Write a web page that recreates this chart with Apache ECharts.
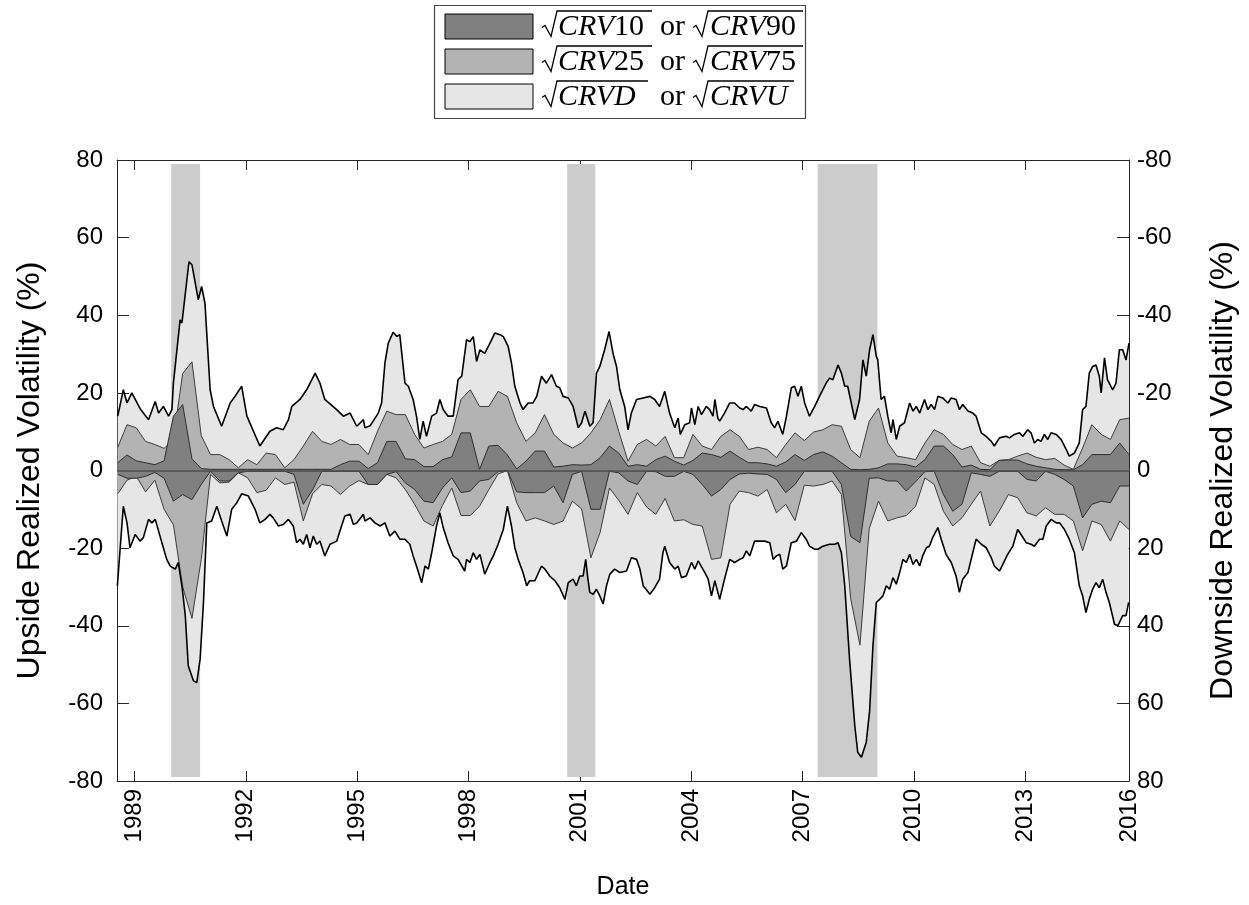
<!DOCTYPE html>
<html>
<head>
<meta charset="utf-8">
<script src="https://cdn.jsdelivr.net/npm/echarts@6.0.0/dist/echarts.min.js"></script>
<style>
  html, body { margin: 0; padding: 0; background: #fff; }
  #chart { width: 1249px; height: 905px; }
</style>
</head>
<body>
<div id="chart"></div>
<script>
// outer envelopes
const upDates = [1988.55, 1988.70, 1988.80, 1988.93, 1989.15, 1989.38, 1989.56, 1989.65, 1989.78, 1989.92,
  1990.01, 1990.05, 1990.23, 1990.28, 1990.47, 1990.55, 1990.72, 1990.81, 1990.90, 1991.04,
  1991.13, 1991.35, 1991.58, 1991.71, 1991.89, 1992.03, 1992.38, 1992.65, 1992.83, 1993.01,
  1993.15, 1993.24, 1993.46, 1993.64, 1993.87, 1994.00, 1994.13, 1994.45, 1994.63, 1994.81,
  1994.99, 1995.17, 1995.21, 1995.35, 1995.57, 1995.66, 1995.75, 1995.84, 1995.97, 1996.07,
  1996.15, 1996.29, 1996.38, 1996.51, 1996.60, 1996.69, 1996.78, 1996.87, 1997.01, 1997.14,
  1997.23, 1997.32, 1997.45, 1997.59, 1997.72, 1997.82, 1997.95, 1998.04, 1998.13, 1998.22,
  1998.31, 1998.44, 1998.58, 1998.71, 1998.85, 1998.94, 1999.07, 1999.16, 1999.25, 1999.39,
  1999.47, 1999.61, 1999.74, 1999.84, 1999.97, 2000.10, 2000.24, 2000.37, 2000.46, 2000.55,
  2000.69, 2000.82, 2000.96, 2001.05, 2001.14, 2001.27, 2001.36, 2001.45, 2001.54, 2001.67,
  2001.79, 2001.90, 2001.99, 2002.08, 2002.21, 2002.30, 2002.39, 2002.53, 2002.71, 2002.89,
  2003.02, 2003.15, 2003.29, 2003.42, 2003.56, 2003.65, 2003.71, 2003.83, 2003.96, 2004.01,
  2004.10, 2004.19, 2004.28, 2004.41, 2004.50, 2004.59, 2004.64, 2004.72, 2004.77, 2004.90,
  2005.04, 2005.17, 2005.31, 2005.40, 2005.49, 2005.62, 2005.71, 2005.85, 2006.03, 2006.16,
  2006.25, 2006.34, 2006.47, 2006.57, 2006.70, 2006.79, 2006.88, 2006.97, 2007.06, 2007.19,
  2007.33, 2007.46, 2007.64, 2007.73, 2007.82, 2007.96, 2008.05, 2008.14, 2008.22, 2008.41,
  2008.45, 2008.54, 2008.63, 2008.72, 2008.81, 2008.90, 2008.99, 2009.03, 2009.12, 2009.21,
  2009.30, 2009.39, 2009.44, 2009.53, 2009.62, 2009.75, 2009.89, 2009.98, 2010.07, 2010.16,
  2010.29, 2010.38, 2010.47, 2010.56, 2010.65, 2010.78, 2010.92, 2011.01, 2011.14, 2011.23,
  2011.32, 2011.46, 2011.59, 2011.68, 2011.82, 2011.95, 2012.09, 2012.17, 2012.31, 2012.49,
  2012.58, 2012.71, 2012.85, 2012.94, 2013.07, 2013.16, 2013.25, 2013.34, 2013.43, 2013.52,
  2013.61, 2013.70, 2013.84, 2013.97, 2014.11, 2014.19, 2014.33, 2014.46, 2014.55, 2014.64,
  2014.73, 2014.82, 2014.91, 2015.00, 2015.05, 2015.14, 2015.22, 2015.36, 2015.45, 2015.54,
  2015.63, 2015.72, 2015.80]
const upVals = [14, 20.8, 17.4, 20, 16, 13.1, 17.8, 14.8, 16.5, 14,
  15.7, 22.5, 38.8, 38, 53.8, 53, 44, 47.4, 43.1, 20.8,
  16.5, 11.4, 17.4, 19.1, 21.7, 14, 6.3, 10.1, 11, 10.5,
  13.1, 16.5, 18.3, 20.8, 25.1, 22.5, 18.3, 15.7, 14, 14.8,
  11.4, 13.1, 11, 11.5, 14.8, 17.4, 27.7, 32.8, 35.6, 34.5,
  35, 22.5, 21.7, 18.3, 14, 8, 12.7, 8.8, 14, 14.8,
  18.3, 15.7, 14, 14, 23.4, 24.3, 33.7, 33.2, 34.5, 28.1,
  31.1, 30.2, 32.8, 35.4, 35, 34.5, 32, 27.7, 21.7, 17.4,
  15.7, 17.4, 17.4, 19.1, 24.3, 22.5, 24.7, 21.7, 21.3, 19.1,
  18.7, 16.5, 11, 12.3, 15.3, 11.4, 12.3, 25.1, 26.8, 31.1,
  35.8, 30, 26.8, 20.8, 16.5, 10.5, 14.8, 18.3, 18.7, 19.1,
  18.3, 16.5, 20.4, 14.8, 11, 13.5, 9.3, 11.8, 12.3, 16.1,
  11.8, 16.5, 14.4, 16.5, 15.7, 14, 18.3, 13.5, 12.7, 14.8,
  17.4, 17.4, 16.1, 15.7, 16.5, 15.3, 17, 16.5, 16.1, 12.3,
  11, 12.7, 9.3, 14, 21.3, 21.7, 19.1, 21.7, 17.4, 14,
  16.5, 19.1, 22.5, 23.8, 23.4, 27.2, 25.1, 21.7, 21.7, 13.1,
  12.7, 18.3, 28.5, 24.3, 31.1, 35, 29.4, 28.5, 18.3, 19.1,
  14, 9.7, 13.1, 8, 11.4, 12.3, 17.4, 15.3, 16.5, 14.8,
  18.3, 15.7, 17, 15.7, 19.1, 18.7, 17.4, 18.7, 18.3, 15.7,
  17, 15.3, 14.8, 14, 9.7, 8.8, 7.5, 6.3, 8.4, 8.8,
  8.4, 9.3, 9.7, 8.8, 10.5, 9.7, 7.1, 8, 7.5, 9.3,
  8, 9.7, 9.3, 8, 5.4, 3.7, 4.5, 7.1, 15.7, 16.5,
  25.1, 26.8, 27.2, 24.3, 20, 29, 23.4, 20.8, 22.5, 31.1,
  31.1, 28.5, 32.8]

const downDates = [1988.54, 1988.70, 1988.80, 1988.88, 1989.02, 1989.15, 1989.24, 1989.38, 1989.47, 1989.56,
  1989.74, 1989.87, 1989.96, 1990.10, 1990.18, 1990.23, 1990.28, 1990.37, 1990.45, 1990.59,
  1990.68, 1990.77, 1990.86, 1990.95, 1991.08, 1991.22, 1991.35, 1991.49, 1991.62, 1991.76,
  1991.89, 1992.07, 1992.25, 1992.38, 1992.52, 1992.65, 1992.74, 1992.88, 1993.01, 1993.15,
  1993.28, 1993.37, 1993.46, 1993.55, 1993.64, 1993.73, 1993.82, 1993.91, 1994.00, 1994.13,
  1994.27, 1994.45, 1994.58, 1994.67, 1994.81, 1994.90, 1994.99, 1995.17, 1995.21, 1995.35,
  1995.48, 1995.62, 1995.75, 1995.88, 1996.02, 1996.15, 1996.29, 1996.42, 1996.51, 1996.60,
  1996.74, 1996.83, 1996.92, 1997.01, 1997.14, 1997.23, 1997.32, 1997.45, 1997.59, 1997.72,
  1997.82, 1997.90, 1997.95, 1998.04, 1998.13, 1998.22, 1998.31, 1998.44, 1998.58, 1998.67,
  1998.80, 1998.94, 1999.05, 1999.16, 1999.25, 1999.34, 1999.47, 1999.57, 1999.65, 1999.79,
  1999.97, 2000.06, 2000.19, 2000.33, 2000.46, 2000.60, 2000.69, 2000.82, 2000.91, 2001.00,
  2001.09, 2001.16, 2001.22, 2001.27, 2001.36, 2001.45, 2001.54, 2001.63, 2001.72, 2001.81,
  2001.94, 2002.08, 2002.26, 2002.39, 2002.53, 2002.62, 2002.71, 2002.89, 2003.02, 2003.15,
  2003.24, 2003.29, 2003.42, 2003.56, 2003.65, 2003.74, 2003.87, 2004.01, 2004.10, 2004.19,
  2004.37, 2004.46, 2004.55, 2004.64, 2004.77, 2004.90, 2005.04, 2005.17, 2005.31, 2005.40,
  2005.49, 2005.58, 2005.71, 2005.85, 2005.98, 2006.12, 2006.21, 2006.30, 2006.39, 2006.47,
  2006.57, 2006.70, 2006.84, 2006.97, 2007.10, 2007.19, 2007.33, 2007.42, 2007.55, 2007.73,
  2007.87, 2007.96, 2008.05, 2008.14, 2008.27, 2008.41, 2008.49, 2008.59, 2008.72, 2008.81,
  2008.90, 2008.99, 2009.08, 2009.17, 2009.26, 2009.35, 2009.44, 2009.53, 2009.62, 2009.71,
  2009.80, 2009.89, 2009.98, 2010.07, 2010.16, 2010.24, 2010.34, 2010.42, 2010.51, 2010.65,
  2010.74, 2010.87, 2011.01, 2011.14, 2011.23, 2011.32, 2011.46, 2011.59, 2011.68, 2011.82,
  2011.95, 2012.09, 2012.17, 2012.31, 2012.40, 2012.53, 2012.67, 2012.80, 2012.89, 2013.03,
  2013.16, 2013.25, 2013.39, 2013.48, 2013.57, 2013.70, 2013.84, 2013.93, 2014.06, 2014.19,
  2014.33, 2014.46, 2014.55, 2014.64, 2014.73, 2014.82, 2014.91, 2015.00, 2015.09, 2015.18,
  2015.27, 2015.41, 2015.50, 2015.63, 2015.72, 2015.79]
const downVals = [-29.7, -9.2, -13.5, -19.9, -16.5, -18.2, -17.3, -12.6, -13.5, -12.6,
  -18.6, -22.9, -24.6, -25.4, -23.7, -26.7, -29.7, -37.4, -50.3, -54.2,
  -54.6, -48.6, -34, -13.5, -13, -9.2, -13, -16.9, -10, -8.3,
  -6, -6.6, -10, -13.5, -12.6, -11.3, -12.2, -14.3, -13.9, -12.6,
  -14.3, -18.6, -17.7, -19, -16.5, -19.9, -16.9, -19, -18.2, -22,
  -19, -18.2, -14.3, -11.7, -11.3, -13.9, -13.5, -11.3, -13, -12.2,
  -13.5, -14.3, -13.5, -16.9, -15.6, -17.7, -17.7, -19, -22, -24.6,
  -28.9, -24.6, -25.4, -21.2, -14.3, -10.9, -14.7, -18.6, -22, -22.9,
  -24.6, -25.9, -22.9, -23.7, -21.2, -22.9, -21.6, -26.7, -23.7, -22,
  -19, -15.2, -9.2, -14.3, -19.9, -22.9, -26.3, -29.7, -28.4, -28.4,
  -24.6, -25.4, -27.2, -28.4, -30.2, -33.2, -28.9, -28, -29.7, -27.2,
  -27.2, -22.9, -28, -31.4, -31.9, -30.6, -32.3, -34.4, -29.7, -26.7,
  -25.4, -26.3, -25.9, -22.5, -22.9, -25.4, -29.7, -31.9, -30.2, -28,
  -21.2, -19.5, -23.7, -25.4, -24.6, -27.6, -27.2, -23.7, -25.4, -23.3,
  -26.3, -28, -32.3, -28.4, -33.2, -28, -22.9, -23.7, -22.9, -22.5,
  -20.7, -22, -18.2, -18.2, -18.2, -18.6, -22.9, -22, -21.6, -25.4,
  -24.6, -18.6, -18.2, -16, -17.7, -19.5, -20.3, -20.3, -19.5, -19,
  -19, -18.6, -21.2, -29.7, -48.6, -65.7, -72.6, -73.9, -70, -62,
  -45.2, -34, -33.2, -32.3, -29.7, -30.6, -27.6, -29.3, -26.3, -22.9,
  -23.7, -21.6, -24.2, -22.9, -24.6, -22, -19.9, -19.5, -17.3, -14.7,
  -17.7, -21.6, -23.7, -27.2, -31.4, -28, -26.3, -21.2, -17.7, -19,
  -19.9, -22.5, -24.6, -25.9, -24.2, -21.6, -19.5, -15.2, -16.5, -18.6,
  -19, -19.5, -17.7, -17.7, -14.3, -12.6, -13.5, -13.5, -15.2, -17.7,
  -21.2, -29.7, -32.3, -36.6, -33.2, -30.6, -28.9, -30.2, -28, -31.4,
  -34, -39.6, -40, -37.4, -37.4, -34]

// quantile bands, one value per quarter from mid 1988
const qStart = 1988.55
const qStep = 0.25
const crv75 = [6, 11.8, 11, 7.5, 6.7, 5.7, 8, 25, 28, 9,
  4.1, 4.1, 2.8, 0.7, 2.8, 1.5, 4.5, 4.1, 0.7, 2.8,
  6.3, 10.1, 7.5, 6.7, 8, 6.7, 6.7, 4.1, 10.1, 15.3,
  14.4, 14.4, 9.3, 5.8, 6.7, 7.5, 9.3, 18.3, 20.8, 16.5,
  16.5, 20.4, 19.1, 12.3, 7.5, 9.7, 14.4, 9.3, 7.1, 5.8,
  7.1, 9.7, 13.1, 18.3, 10.1, 2.4, 6.7, 8, 6.3, 8.8,
  3.3, 3.3, 9.3, 6.3, 5.4, 8.8, 10.5, 8.8, 5.4, 6,
  5.4, 3.3, 6.7, 9.7, 7.7, 9.9, 10.5, 11.8, 11.4, 5.4,
  3.3, 12.7, 16.1, 7.1, 3.7, 3.3, 2.8, 7.1, 10.5, 9.3,
  6.7, 5.4, 6.3, 2, 1.1, 2.6, 2.8, 3.7, 4.5, 3.4,
  2.8, 3.1, 1.4, 0.3, 5.8, 11.8, 9.3, 8, 13.1, 13.5]
const crv90 = [2, 4, 2.5, 2, 1.5, 2.5, 14, 17, 3, 0.5,
  0.3, 0.3, 0.3, 0.3, 0.3, 0.3, 0.3, 0.3, 0.3, 0.3,
  0.3, 0.3, 0.3, 0.3, 1.5, 2.4, 2.4, 0.5, 2, 7.5,
  7.5, 3, 2.8, 1, 1, 2.8, 3.5, 9.7, 9.7, 0.3,
  6.3, 6.5, 4, 0.4, 2.4, 5, 5, 0.9, 1.1, 1.5,
  1.4, 1.5, 3.3, 6.3, 4.5, 1.1, 1.5, 1.1, 2.8, 3.7,
  2.4, 1.4, 2.6, 4.5, 4.1, 3.4, 5, 3.4, 2, 2,
  1.7, 1.1, 2.2, 4.1, 2.6, 4.1, 4.8, 3.7, 2, 0.3,
  0.2, 0.3, 0.7, 1.7, 1.7, 1.5, 0.9, 2.8, 6.3, 6.3,
  4.1, 0.9, 1.4, 0.3, 0.2, 2.6, 2.7, 2.7, 1.7, 1.1,
  0.7, 0.3, 0.2, 0.2, 1.5, 4.1, 4.1, 4.1, 7.1, 4.1]
const crv25 = [-6, -2.5, -1.5, -5.5, -2.5, -10, -14, -30, -38.1, -22.9,
  -1, -3.2, -3, -0.6, -1.9, -5.7, -5.1, -1.9, -3.6, -3,
  -13, -6, -3.6, -4, -6.2, -4, -2.6, -3.6, -3.6, -1,
  -1.9, -4.9, -8.7, -13, -14.3, -9, -4.5, -11.6, -11.6, -9.2,
  -4.9, -0.9, 0, -8.3, -13, -12.2, -13, -13.9, -13, -7.9,
  -9.9, -22.5, -15.9, -4.5, -7.7, -11.3, -5.7, -9.4, -11.3, -7.2,
  -13, -12.7, -13.9, -14.3, -22.9, -22.5, -8.7, -5.3, -5.7, -6.6,
  -4.9, -10.9, -8.7, -12.9, -3.8, -4, -3.6, -2.7, -6.2, -33,
  -45, -15, -7.9, -13, -12.2, -11.6, -9.2, -1.9, -3.6, -10.5,
  -14.3, -12.2, -8.7, -5.3, -14.3, -10.5, -6.2, -7, -10.9, -11.7,
  -9.6, -11.3, -11.3, -13, -20.7, -13, -13.9, -18.2, -13, -15.2]
const crv10 = [-1, -2, -2, -1.5, -0.5, -2, -7.9, -6.2, -7.5, -3.6,
  -0.2, -2.7, -2.7, -0.6, -0.2, -0.2, -0.2, -0.2, -0.2, -1,
  -8.7, -5, -0.2, -0.2, -0.2, -0.2, -0.2, -3.6, -3.6, -1,
  -0.3, -3.2, -4.9, -7.9, -8.3, -4.5, -1.9, -5.7, -5.3, -2.7,
  -2.3, -0.3, 0, -5.5, -5.7, -5.7, -5.7, -4, -8.3, -1,
  -0.2, -10, -10, -0.2, -0.6, -2.7, -3.6, -0.2, -0.3, -1.5,
  -1.5, -0.2, -1, -3.6, -6.6, -4.9, -2.3, -0.9, -0.7, -0.9,
  -1, -2.3, -5.7, -3.6, -0.2, -0.2, -0.2, -0.2, -3.6, -17,
  -18.6, -2, -1.9, -2.7, -2.7, -5.3, -2.9, -0.3, -0.2, -6.2,
  -10.5, -8.7, -0.6, -1, -1.5, -0.2, -0.2, -0.2, -2.3, -2.7,
  -0.2, -1, -2.3, -4, -12.2, -8.7, -7.9, -8.3, -4, -4]

// NBER recessions as they sit on this axis
const recessions = [[1989.99, 1990.77], [2000.66, 2001.42], [2007.41, 2009.02]]

const xTicks = [1989, 1992, 1995, 1998, 2001, 2004, 2007, 2010, 2013, 2015.8]
const xMin = 1988.53
const xMax = 2015.8

const qDates = crv75.map((v, i) => qStart + i * qStep)
const zip = (xs, ys) => ys.map((y, i) => [xs[i], y])

const LIGHT = '#e6e6e6'
const MID = '#b3b3b3'
const DARK = '#808080'
const AXIS = '#262626'

function band(name, data, fill, line, width, z) {
  return {
    name: name, type: 'line', data: data, symbol: 'none', silent: true, z: z,
    lineStyle: { color: line, width: width },
    areaStyle: fill ? { color: fill, opacity: 1, origin: 'auto' } : undefined
  }
}

// legend is drawn by hand so the square roots get their bar
function legendRow(r, left, right) {
  const yc = 26.5 + 35 * r
  const yBar = 11 + 35 * r
  const serif = 'Liberation Serif'
  const radical = (x0, x1) => ({
    type: 'polyline',
    shape: { points: [[x0, yc + 1], [x0 + 3, yc - 1], [x0 + 9, yc + 10], [x0 + 15, yBar], [x1, yBar]] },
    style: { stroke: '#000', lineWidth: 1.3, fill: null }
  })
  const word = (x, s) => ({
    type: 'text', x: x, y: yc + 1,
    style: {
      text: '{i|CRV}{n|' + s.n + '}', verticalAlign: 'middle', align: 'left',
      rich: {
        i: { fontFamily: serif, fontStyle: 'italic', fontSize: 30, fill: '#000' },
        n: { fontFamily: serif, fontStyle: s.it ? 'italic' : 'normal', fontSize: 30, fill: '#000' }
      }
    }
  })
  return [
    { type: 'rect', shape: { x: 445, y: yc - 12.5, width: 88, height: 25 },
      style: { fill: [DARK, MID, LIGHT][r], stroke: '#000', lineWidth: 1 } },
    radical(542, left.end),
    word(558, left),
    { type: 'text', x: 660, y: yc + 1,
      style: { text: 'or', fontFamily: serif, fontSize: 30, fill: '#000', verticalAlign: 'middle' } },
    radical(693, right.end),
    word(710, right)
  ]
}

const chart = echarts.init(document.getElementById('chart'), null, { renderer: 'canvas' })

chart.setOption({
  animation: false,
  backgroundColor: '#fff',
  grid: { left: 117, right: 120, top: 160, bottom: 123 },
  graphic: [
    { type: 'rect', shape: { x: 434.5, y: 5.5, width: 371, height: 113 },
      style: { fill: '#fff', stroke: '#444', lineWidth: 1.2 } },
    ...legendRow(0, { n: '10', end: 652 }, { n: '90', end: 803 }),
    ...legendRow(1, { n: '25', end: 652 }, { n: '75', end: 803 }),
    ...legendRow(2, { n: 'D', it: true, end: 648 }, { n: 'U', it: true, end: 794 })
  ],
  xAxis: [{
    type: 'value', min: xMin, max: xMax,
    name: 'Date', nameLocation: 'middle', nameGap: 94,
    nameTextStyle: { fontFamily: 'Liberation Sans', fontSize: 25, color: '#000' },
    axisLine: { show: true, onZero: false, lineStyle: { color: AXIS, width: 1 } },
    axisTick: { show: true, inside: true, length: 10, customValues: xTicks, lineStyle: { color: AXIS } },
    axisLabel: {
      customValues: xTicks, rotate: 90, margin: 8,
      fontFamily: 'Liberation Sans', fontSize: 24, color: '#000',
      formatter: v => String(Math.round(v))
    },
    splitLine: { show: false }
  }, {
    type: 'value', position: 'top', min: xMin, max: xMax,
    axisLine: { show: true, onZero: false, lineStyle: { color: AXIS, width: 1 } },
    axisTick: { show: true, inside: true, length: 10, customValues: xTicks, lineStyle: { color: AXIS } },
    axisLabel: { show: false },
    splitLine: { show: false }
  }],
  yAxis: [{
    type: 'value', min: -80, max: 80, interval: 20, position: 'left',
    name: 'Upside Realized Volatility (%)', nameLocation: 'middle', nameGap: 71, nameRotate: 90,
    nameTextStyle: { fontFamily: 'Liberation Sans', fontSize: 32, color: '#000' },
    axisLine: { show: true, onZero: false, lineStyle: { color: AXIS, width: 1 } },
    axisTick: { show: true, inside: true, length: 12, lineStyle: { color: AXIS } },
    axisLabel: { margin: 14, fontFamily: 'Liberation Sans', fontSize: 24, color: '#000' },
    splitLine: { show: false }
  }, {
    type: 'value', min: -80, max: 80, interval: 20, position: 'right', inverse: true,
    name: 'Downside Realized Volatility (%)', nameLocation: 'middle', nameGap: 78, nameRotate: 90,
    nameTextStyle: { fontFamily: 'Liberation Sans', fontSize: 32, color: '#000' },
    axisLine: { show: true, onZero: false, lineStyle: { color: AXIS, width: 1 } },
    axisTick: { show: true, inside: true, length: 12, lineStyle: { color: AXIS } },
    axisLabel: { margin: 8, fontFamily: 'Liberation Sans', fontSize: 24, color: '#000' },
    splitLine: { show: false }
  }],
  series: [
    {
      name: 'recessions', type: 'line', data: [[qDates[0], 0]], symbol: 'none', silent: true, z: 1,
      lineStyle: { width: 0 },
      markArea: {
        silent: true,
        itemStyle: { color: '#cccccc' },
        data: recessions.map(r => [{ xAxis: r[0], yAxis: -79 }, { xAxis: r[1], yAxis: 79 }])
      }
    },
    // light fills first, their black outlines go on top at the end
    band('CRVU fill', zip(upDates, upVals), LIGHT, LIGHT, 0, 2),
    band('CRVD fill', zip(downDates, downVals), LIGHT, LIGHT, 0, 2),
    band('CRV75', zip(qDates, crv75), MID, '#3c3c3c', 1, 3),
    band('CRV25', zip(qDates, crv25), MID, '#3c3c3c', 1, 3),
    band('CRV90', zip(qDates, crv90), DARK, '#2e2e2e', 1, 4),
    Object.assign(band('CRV10', zip(qDates, crv10), DARK, '#2e2e2e', 1, 4), {
      markLine: {
        silent: true, symbol: 'none', label: { show: false },
        lineStyle: { color: '#4a4a4a', width: 1.5, type: 'solid' },
        data: [{ yAxis: 0 }]
      }
    }),
    band('CRVU', zip(upDates, upVals), null, '#000', 1.6, 5),
    band('CRVD', zip(downDates, downVals), null, '#000', 1.6, 5)
  ]
})
</script>
</body>
</html>
